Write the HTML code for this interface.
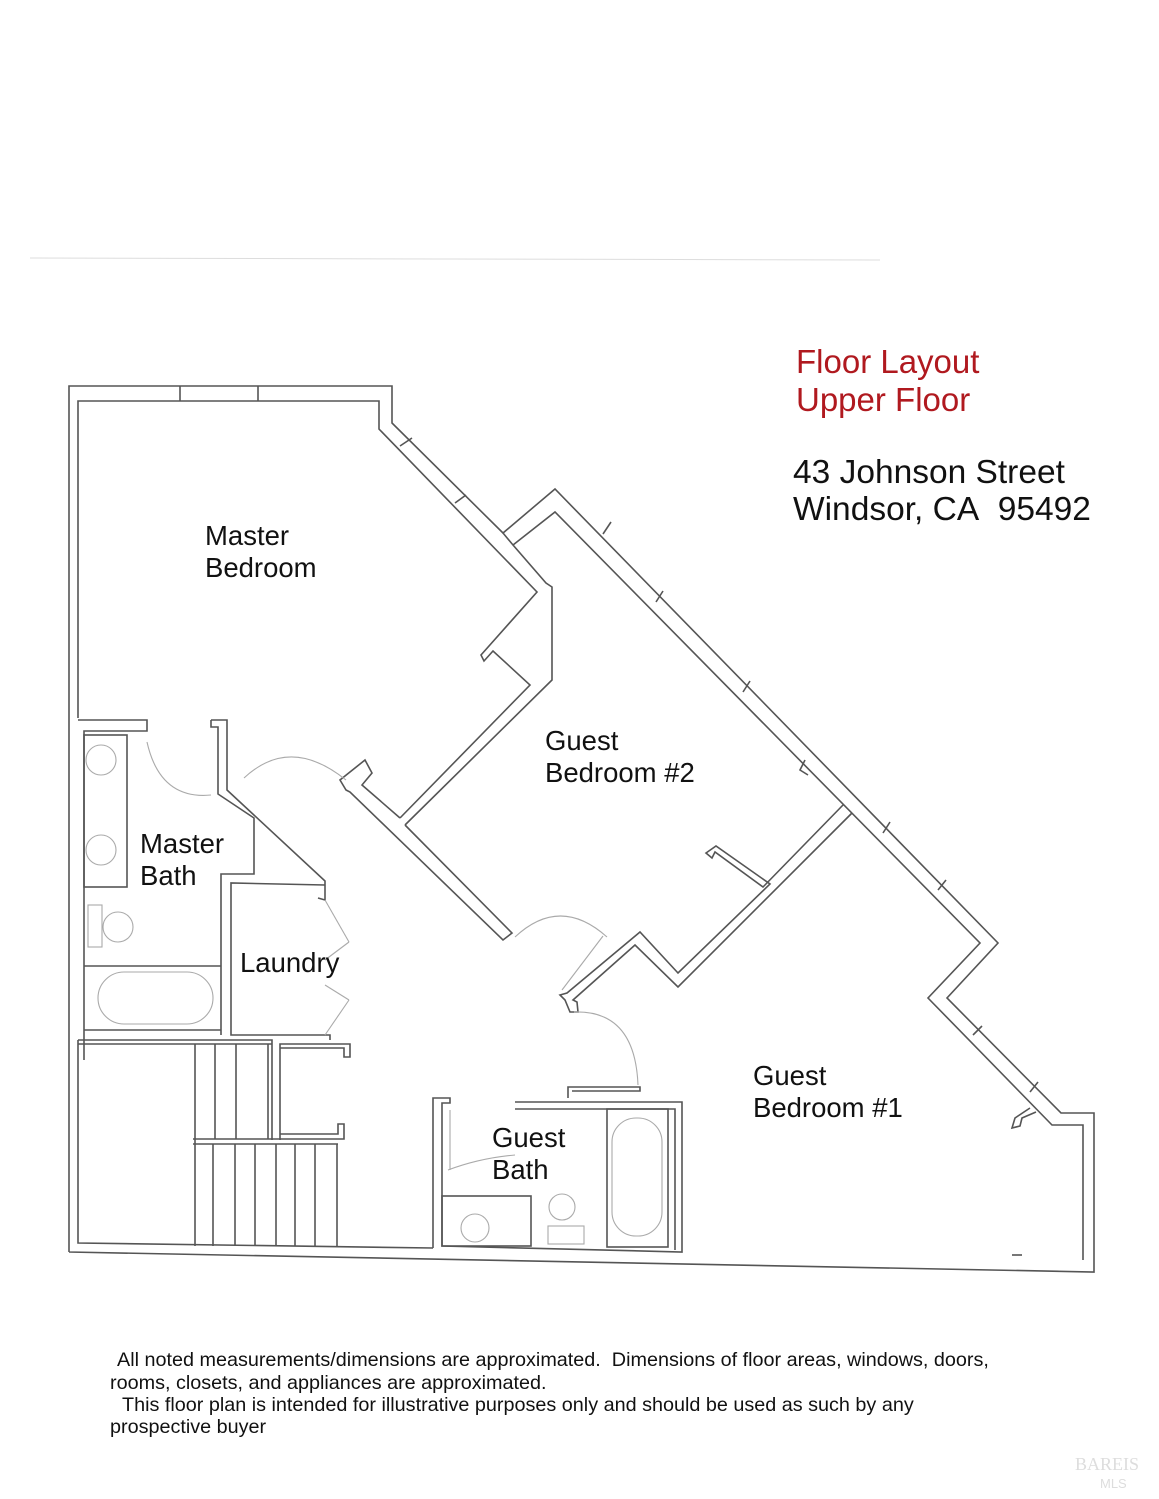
<!DOCTYPE html>
<html><head><meta charset="utf-8"><style>
html,body{margin:0;padding:0;background:#fff;}
body{width:1159px;height:1499px;overflow:hidden;position:relative;font-family:"Liberation Sans",Arial,sans-serif;}
svg{position:absolute;left:0;top:0;}
</style></head><body>
<svg width="1159" height="1499" viewBox="0 0 1159 1499" xmlns="http://www.w3.org/2000/svg">
<g fill="none" stroke="#555" stroke-width="1.6" stroke-linejoin="miter">
<line x1="30" y1="258" x2="880" y2="260" stroke="#ddd" stroke-width="1"/>
<!-- outer -->
<polyline points="69,1252 69,386 392,386 392,423 503,533 555,489 998,943 947,998 1061,1113 1094,1113 1094,1272 69,1252"/>
<!-- inner master bedroom -->
<polyline points="78,718 78,401 379,401 379,429 537,592 481,655 484,661 493,651 530,685 400,818"/>
<!-- GB2 inner -->
<polyline points="513,545 555,512 980,943 928,998 1052,1125 1083,1125 1083,1260"/>
<polyline points="503,533 513,545 546,583 552,587 552,680 405,825"/>
<!-- window ticks -->
<line x1="258" y1="386" x2="258" y2="401"/><line x1="180" y1="386" x2="180" y2="401"/>
<line x1="400" y1="446" x2="412" y2="438"/><line x1="455" y1="503" x2="466" y2="495"/>
<line x1="603" y1="534" x2="611" y2="522"/><line x1="656" y1="602" x2="663" y2="591"/>
<line x1="743" y1="692" x2="750" y2="681"/><line x1="883" y1="833" x2="890" y2="822"/>
<line x1="938" y1="890" x2="946" y2="880"/><line x1="973" y1="1035" x2="982" y2="1026"/>
<line x1="1030" y1="1092" x2="1038" y2="1082"/>
<!-- hall diagonal wall with T -->
<polyline points="400,818 362,785 372,773 365,760 340,780 346,790 350,792 503,940 512,933 405,825"/>
<!-- GB2/GB1 divider -->
<polyline points="843,805 763,887 715,852 712,858 706,853 716,846 770,884 678,973 640,932 567,993 560,995 565,1000 570,1012 578,1012 577,1002 573,1000 635,945 678,987 852,813"/>
<!-- closet stub GB2 near outer -->
<polyline points="805,760 800,770 808,775"/>
<polyline points="1030,1108 1015,1118 1012,1128 1020,1126 1022,1118 1036,1112"/>
<line x1="1012" y1="1255" x2="1022" y2="1255"/>
<!-- master bath -->
<polyline points="78,720 147,720 147,731 84,731 84,1060"/>
<rect x="84" y="735" width="43" height="152"/>
<polyline points="211,720 227,720 227,790 325,881 325,900 318,898"/>
<polyline points="211,720 211,727 218,727 218,794 254,818 254,874 221,874 221,1035"/>
<line x1="84" y1="966" x2="221" y2="966"/>
<line x1="84" y1="1030" x2="221" y2="1030"/>
<polyline points="325,885 231,883 231,1035 330,1035 330,1040"/>
<!-- stairs -->
<polyline points="78,1040 272,1040 272,1140"/>
<polyline points="280,1140 280,1044 350,1044 350,1057 344,1057 344,1048 280,1048"/>
<line x1="78" y1="1044" x2="272" y2="1044"/>
<line x1="195" y1="1044" x2="195" y2="1246"/><line x1="215" y1="1044" x2="215" y2="1139"/>
<line x1="236" y1="1044" x2="236" y2="1139"/><line x1="268" y1="1044" x2="268" y2="1139"/>
<polyline points="193,1139 344,1139 344,1124 338,1124 338,1134 280,1134"/>
<line x1="193" y1="1144" x2="338" y2="1144"/>
<line x1="213" y1="1144" x2="213" y2="1246"/><line x1="235" y1="1144" x2="235" y2="1246"/>
<line x1="255" y1="1144" x2="255" y2="1246"/><line x1="276" y1="1144" x2="276" y2="1246"/>
<line x1="295" y1="1144" x2="295" y2="1246"/><line x1="315" y1="1144" x2="315" y2="1246"/>
<line x1="337" y1="1144" x2="337" y2="1246"/>
<polyline points="78,1040 78,1243 433,1248"/>
<!-- guest bath -->
<polyline points="433,1248 433,1098 450,1098 450,1103 442,1103 442,1246 682,1252 682,1102 515,1102"/>
<polyline points="515,1109 675,1109 675,1250"/>
<rect x="607" y="1109" width="61" height="138"/>
<rect x="442" y="1196" width="89" height="50"/>
<polyline points="568,1098 568,1087 640,1087 640,1091 572,1091"/>
</g>
<g fill="none" stroke="#aaa" stroke-width="1.1">
<circle cx="101" cy="760" r="15"/><circle cx="101" cy="850" r="15"/><circle cx="118" cy="927" r="15"/>
<rect x="88" y="905" width="14" height="42"/>
<rect x="98" y="972" width="115" height="52" rx="26"/>
<rect x="612" y="1118" width="50" height="118" rx="24"/>
<circle cx="475" cy="1228" r="14"/><circle cx="562" cy="1207" r="13"/><rect x="548" y="1226" width="36" height="18"/>
<path d="M147,742 Q160,800 211,795"/>
<path d="M244,778 Q290,735 346,780"/>
<path d="M515,937 Q560,895 607,937"/>
<path d="M574,1012 Q635,1010 638,1085"/>
<path d="M448,1170 Q480,1158 515,1155"/>
<line x1="562" y1="990" x2="603" y2="936"/>
<line x1="450" y1="1110" x2="450" y2="1170"/>
<line x1="325" y1="900" x2="349" y2="942"/><line x1="349" y1="942" x2="325" y2="960"/>
<line x1="325" y1="985" x2="349" y2="1000"/><line x1="349" y1="1000" x2="325" y2="1035"/>
</g>
<g font-family="Liberation Sans, Arial, sans-serif">
<text x="796" y="373" font-size="33" fill="#b0191f">Floor Layout</text>
<text x="796" y="411" font-size="33" fill="#b0191f">Upper Floor</text>
<text x="793" y="483" font-size="33.5" fill="#111">43 Johnson Street</text>
<text x="793" y="520" font-size="33.5" fill="#111">Windsor, CA&#160; 95492</text>
<g font-size="27.5" fill="#111">
<text x="205" y="545">Master</text><text x="205" y="577">Bedroom</text>
<text x="545" y="750">Guest</text><text x="545" y="782">Bedroom #2</text>
<text x="140" y="853">Master</text><text x="140" y="885">Bath</text>
<text x="240" y="972">Laundry</text>
<text x="492" y="1147">Guest</text><text x="492" y="1179">Bath</text>
<text x="753" y="1085">Guest</text><text x="753" y="1117">Bedroom #1</text>
</g>
<g font-size="19.8" fill="#111">
<text x="117" y="1366">All noted measurements/dimensions are approximated.&#160; Dimensions of floor areas, windows, doors,</text>
<text x="110" y="1389">rooms, closets, and appliances are approximated.</text>
<text x="122" y="1411">This floor plan is intended for illustrative purposes only and should be used as such by any</text>
<text x="110" y="1433">prospective buyer</text>
</g>
<text x="1075" y="1470" font-size="18" fill="#ddd" font-family="Liberation Serif, serif">BAREIS</text>
<text x="1100" y="1488" font-size="13" fill="#ddd">MLS</text>
</g>
</svg>
</body></html>
